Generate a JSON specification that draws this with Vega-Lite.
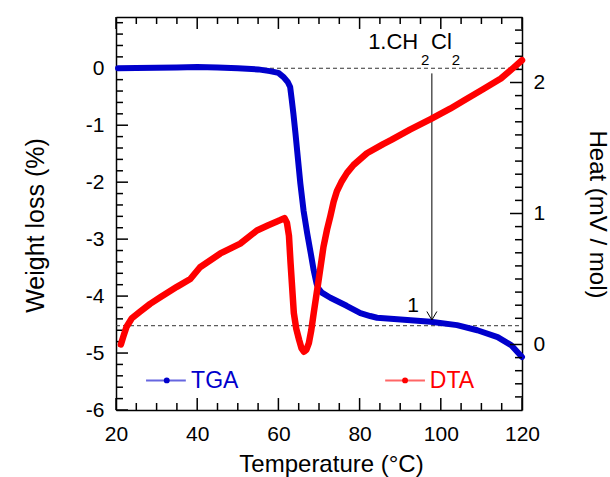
{
  "$schema": "https://vega.github.io/schema/vega-lite/v6.json",
  "width": 406,
  "height": 393,
  "autosize": "none",
  "padding": {"left": 116, "top": 17, "right": 88, "bottom": 67},
  "config": {
    "font": "Liberation Sans",
    "view": {"stroke": null, "fill": null},
    "axis": {
      "zindex": 1, "ticks": false,
      "grid": false, "domainColor": "black", "domainWidth": 1.5,
      "labelFontSize": 21, "labelColor": "black", "labelFont": "Liberation Sans",
      "labelFlush": false, "labelOverlap": false,
      "titleFontSize": 24, "titleFontWeight": "normal", "titleColor": "black", "titleFont": "Liberation Sans"
    }
  },
  "datasets": {
    "tga": [
      {"T": 20.5, "W": 0.0}, {"T": 25, "W": 0.005}, {"T": 30, "W": 0.01}, {"T": 35, "W": 0.015},
      {"T": 40, "W": 0.02}, {"T": 45, "W": 0.015}, {"T": 50, "W": 0.0}, {"T": 55, "W": -0.02},
      {"T": 57.9, "W": -0.05}, {"T": 60, "W": -0.08}, {"T": 61.2, "W": -0.15}, {"T": 62.3, "W": -0.24},
      {"T": 62.9, "W": -0.33}, {"T": 63.3, "W": -0.56}, {"T": 63.7, "W": -0.8}, {"T": 64.2, "W": -1.14},
      {"T": 65.4, "W": -2.02}, {"T": 66.2, "W": -2.5}, {"T": 67.1, "W": -2.9}, {"T": 67.9, "W": -3.22},
      {"T": 68.7, "W": -3.55}, {"T": 69.4, "W": -3.78}, {"T": 69.9, "W": -3.87}, {"T": 70.7, "W": -3.94}, {"T": 72.8, "W": -4.03},
      {"T": 76.8, "W": -4.17}, {"T": 80.2, "W": -4.3}, {"T": 82.6, "W": -4.35}, {"T": 84.3, "W": -4.38},
      {"T": 90.1, "W": -4.41}, {"T": 97.5, "W": -4.45}, {"T": 104, "W": -4.51}, {"T": 109, "W": -4.6},
      {"T": 114, "W": -4.72}, {"T": 117.3, "W": -4.86}, {"T": 120, "W": -5.07}
    ],
    "dta": [
      {"T": 21.2, "H": 0.0}, {"T": 21.8, "H": 0.06}, {"T": 22.6, "H": 0.135}, {"T": 23.9, "H": 0.2},
      {"T": 25.9, "H": 0.25}, {"T": 28.4, "H": 0.31}, {"T": 30.9, "H": 0.36}, {"T": 35, "H": 0.44},
      {"T": 38.3, "H": 0.5}, {"T": 40.7, "H": 0.59}, {"T": 45.7, "H": 0.695}, {"T": 50.6, "H": 0.77},
      {"T": 54.7, "H": 0.87}, {"T": 57.5, "H": 0.91}, {"T": 60.5, "H": 0.95}, {"T": 61.5, "H": 0.965},
      {"T": 62.1, "H": 0.93}, {"T": 62.6, "H": 0.83}, {"T": 63, "H": 0.62}, {"T": 63.8, "H": 0.24},
      {"T": 64.4, "H": 0.12}, {"T": 65.1, "H": 0.035}, {"T": 65.7, "H": -0.03}, {"T": 66.3, "H": -0.055},
      {"T": 66.9, "H": -0.04}, {"T": 67.5, "H": 0.01}, {"T": 68.1, "H": 0.11}, {"T": 68.7, "H": 0.24},
      {"T": 69.9, "H": 0.49}, {"T": 71.1, "H": 0.745}, {"T": 72, "H": 0.88}, {"T": 72.8, "H": 0.98},
      {"T": 73.6, "H": 1.09}, {"T": 74.4, "H": 1.17}, {"T": 75.5, "H": 1.24}, {"T": 76.9, "H": 1.31}, {"T": 78.5, "H": 1.37},
      {"T": 81.8, "H": 1.46}, {"T": 85.8, "H": 1.53}, {"T": 87.7, "H": 1.56}, {"T": 92.4, "H": 1.64},
      {"T": 97.5, "H": 1.72}, {"T": 102.3, "H": 1.8}, {"T": 105.8, "H": 1.865}, {"T": 110.5, "H": 1.95},
      {"T": 114.8, "H": 2.03}, {"T": 117.8, "H": 2.11}, {"T": 120, "H": 2.17}
    ],
    "xmajor": [{"v": 20}, {"v": 40}, {"v": 60}, {"v": 80}, {"v": 100}, {"v": 120}],
    "xminor": [{"v": 25}, {"v": 30}, {"v": 35}, {"v": 45}, {"v": 50}, {"v": 55}, {"v": 65}, {"v": 70}, {"v": 75}, {"v": 85}, {"v": 90}, {"v": 95}, {"v": 105}, {"v": 110}, {"v": 115}],
    "lmajor": [{"v": -6}, {"v": -5}, {"v": -4}, {"v": -3}, {"v": -2}, {"v": -1}, {"v": 0}],
    "lminor": [{"v": -5.8}, {"v": -5.6}, {"v": -5.4}, {"v": -5.2}, {"v": -4.8}, {"v": -4.6}, {"v": -4.4}, {"v": -4.2}, {"v": -3.8}, {"v": -3.6}, {"v": -3.4}, {"v": -3.2}, {"v": -2.8}, {"v": -2.6}, {"v": -2.4}, {"v": -2.2}, {"v": -1.8}, {"v": -1.6}, {"v": -1.4}, {"v": -1.2}, {"v": -0.8}, {"v": -0.6}, {"v": -0.4}, {"v": -0.2}, {"v": 0.2}, {"v": 0.4}, {"v": 0.6}, {"v": 0.8}],
    "rmajor": [{"v": 0}, {"v": 1}, {"v": 2}],
    "rminor": [{"v": -0.4}, {"v": -0.3}, {"v": -0.2}, {"v": -0.1}, {"v": 0.1}, {"v": 0.2}, {"v": 0.3}, {"v": 0.4}, {"v": 0.5}, {"v": 0.6}, {"v": 0.7}, {"v": 0.8}, {"v": 0.9}, {"v": 1.1}, {"v": 1.2}, {"v": 1.3}, {"v": 1.4}, {"v": 1.5}, {"v": 1.6}, {"v": 1.7}, {"v": 1.8}, {"v": 1.9}, {"v": 2.1}, {"v": 2.2}, {"v": 2.3}, {"v": 2.4}],
    "dashes": [
      {"x1": 20, "x2": 120, "y": 0},
      {"x1": 20, "x2": 120, "y": -4.52}
    ],
    "arrow": [
      {"x": 97.8, "y1": -0.09, "y2": -4.42}
    ],
    "legend": [
      {"s": "TGA", "x1": 27.4, "x2": 37.2, "xm": 32.5, "xt": 38.5, "y": -5.48},
      {"s": "DTA", "x1": 86.3, "x2": 96.1, "xm": 91.2, "xt": 97.3, "y": -5.48}
    ],
    "bigtext": [
      {"x": 82.1, "y": 0.33, "t": "1.CH"},
      {"x": 97.6, "y": 0.33, "t": "Cl"}
    ],
    "subtext": [
      {"x": 95.1, "y": 0.05, "t": "2"},
      {"x": 102.7, "y": 0.05, "t": "2"}
    ],
    "label1": [
      {"x": 93.2, "y": -4.28, "t": "1"}
    ]
  },
  "layer": [
    {
      "resolve": {"axis": {"x": "independent", "y": "independent"}},
      "layer": [
        {
          "data": {"name": "dashes"},
          "mark": {"type": "rule", "strokeDash": [4, 3], "color": "#333333", "strokeWidth": 1},
          "encoding": {
            "x": {"field": "x1", "type": "quantitative", "scale": {"domain": [20, 120], "nice": false, "zero": false}, "axis": null},
            "x2": {"field": "x2"},
            "y": {"field": "y", "type": "quantitative", "scale": {"domain": [-6, 0.9], "nice": false, "zero": false}, "axis": null}
          }
        },
        {
          "data": {"name": "xmajor"},
          "mark": {"type": "rule", "color": "black", "strokeWidth": 1.5},
          "encoding": {
            "x": {"field": "v", "type": "quantitative", "axis": null},
            "y": {"datum": -6, "type": "quantitative", "axis": null},
            "y2": {"datum": -5.79}
          }
        },
        {
          "data": {"name": "xminor"},
          "mark": {"type": "rule", "color": "black", "strokeWidth": 1.5},
          "encoding": {
            "x": {"field": "v", "type": "quantitative", "axis": null},
            "y": {"datum": -6, "type": "quantitative", "axis": null},
            "y2": {"datum": -5.877}
          }
        },
        {
          "data": {"name": "xmajor"},
          "mark": {"type": "rule", "color": "black", "strokeWidth": 1.5},
          "encoding": {
            "x": {"field": "v", "type": "quantitative", "axis": {"orient": "top", "labels": false, "ticks": false, "title": null, "values": [20, 120]}},
            "y": {"datum": 0.9, "type": "quantitative", "axis": null},
            "y2": {"datum": 0.69}
          }
        },
        {
          "data": {"name": "xminor"},
          "mark": {"type": "rule", "color": "black", "strokeWidth": 1.5},
          "encoding": {
            "x": {"field": "v", "type": "quantitative", "axis": null},
            "y": {"datum": 0.9, "type": "quantitative", "axis": null},
            "y2": {"datum": 0.777}
          }
        },
        {
          "data": {"name": "lmajor"},
          "mark": {"type": "rule", "color": "black", "strokeWidth": 1.5},
          "encoding": {
            "y": {"field": "v", "type": "quantitative", "axis": null},
            "x": {"datum": 20, "type": "quantitative", "axis": null},
            "x2": {"datum": 22.96}
          }
        },
        {
          "data": {"name": "lminor"},
          "mark": {"type": "rule", "color": "black", "strokeWidth": 1.5},
          "encoding": {
            "y": {"field": "v", "type": "quantitative", "axis": null},
            "x": {"datum": 20, "type": "quantitative", "axis": null},
            "x2": {"datum": 21.72}
          }
        },
        {
          "data": {"name": "tga"},
          "mark": {"type": "line", "color": "#0000CC", "strokeWidth": 6, "strokeCap": "round", "strokeJoin": "round"},
          "encoding": {
            "x": {
              "field": "T", "type": "quantitative",
              "axis": {
                "orient": "bottom",
                "values": [20, 40, 60, 80, 100, 120],
                "labelExpr": "'' + datum.value",
                "labelPadding": 13,
                "title": "Temperature (°C)",
                "titleX": 215, "titleY": 61.5, "titleBaseline": "alphabetic", "titleAlign": "center"
              }
            },
            "y": {
              "field": "W", "type": "quantitative",
              "axis": {
                "orient": "left",
                "values": [-6, -5, -4, -3, -2, -1, 0],
                "labelExpr": "'' + datum.value",
                "labelPadding": 12,
                "title": "Weight loss (%)",
                "titleFontSize": 25,
                "titleX": -72.7, "titleY": 208, "titleAngle": -90, "titleBaseline": "alphabetic", "titleAlign": "center"
              }
            }
          }
        },
        {
          "data": {"name": "arrow"},
          "mark": {"type": "rule", "color": "black", "strokeWidth": 1},
          "encoding": {
            "x": {"field": "x", "type": "quantitative", "axis": null},
            "y": {"field": "y1", "type": "quantitative", "axis": null},
            "y2": {"field": "y2"}
          }
        },
        {
          "data": {"name": "arrow"},
          "mark": {"type": "point", "shape": "M -1 -1.7 L 0 0 L 1 -1.7", "filled": false, "stroke": "black", "strokeWidth": 1, "size": 100, "opacity": 1},
          "encoding": {
            "x": {"field": "x", "type": "quantitative", "axis": null},
            "y": {"field": "y2", "type": "quantitative", "axis": null}
          }
        },
        {
          "data": {"name": "legend"},
          "mark": {"type": "rule", "strokeWidth": 2, "opacity": 0.6},
          "encoding": {
            "x": {"field": "x1", "type": "quantitative", "axis": null},
            "x2": {"field": "x2"},
            "y": {"field": "y", "type": "quantitative", "axis": null},
            "color": {"field": "s", "type": "nominal", "scale": {"domain": ["TGA", "DTA"], "range": ["#0000CC", "#FF0000"]}, "legend": null}
          }
        },
        {
          "data": {"name": "legend"},
          "mark": {"type": "point", "filled": true, "size": 35, "opacity": 1},
          "encoding": {
            "x": {"field": "xm", "type": "quantitative", "axis": null},
            "y": {"field": "y", "type": "quantitative", "axis": null},
            "color": {"field": "s", "type": "nominal", "scale": {"domain": ["TGA", "DTA"], "range": ["#0000CC", "#FF0000"]}, "legend": null}
          }
        },
        {
          "data": {"name": "legend"},
          "mark": {"type": "text", "align": "left", "baseline": "middle", "fontSize": 23, "dy": 1},
          "encoding": {
            "x": {"field": "xt", "type": "quantitative", "axis": null},
            "y": {"field": "y", "type": "quantitative", "axis": null},
            "text": {"field": "s"},
            "color": {"field": "s", "type": "nominal", "scale": {"domain": ["TGA", "DTA"], "range": ["#0000CC", "#FF0000"]}, "legend": null}
          }
        },
        {
          "data": {"name": "bigtext"},
          "mark": {"type": "text", "align": "left", "baseline": "alphabetic", "fontSize": 22, "color": "black"},
          "encoding": {
            "x": {"field": "x", "type": "quantitative", "axis": null},
            "y": {"field": "y", "type": "quantitative", "axis": null},
            "text": {"field": "t"}
          }
        },
        {
          "data": {"name": "subtext"},
          "mark": {"type": "text", "align": "left", "baseline": "alphabetic", "fontSize": 15, "color": "black"},
          "encoding": {
            "x": {"field": "x", "type": "quantitative", "axis": null},
            "y": {"field": "y", "type": "quantitative", "axis": null},
            "text": {"field": "t"}
          }
        },
        {
          "data": {"name": "label1"},
          "mark": {"type": "text", "align": "center", "baseline": "alphabetic", "fontSize": 21, "color": "black"},
          "encoding": {
            "x": {"field": "x", "type": "quantitative", "axis": null},
            "y": {"field": "y", "type": "quantitative", "axis": null},
            "text": {"field": "t"}
          }
        }
      ]
    },
    {
      "resolve": {"axis": {"x": "independent", "y": "independent"}},
      "layer": [
        {
          "data": {"name": "rmajor"},
          "mark": {"type": "rule", "color": "black", "strokeWidth": 1.5},
          "encoding": {
            "y": {"field": "v", "type": "quantitative", "scale": {"domain": [-0.5, 2.5], "nice": false, "zero": false}, "axis": null},
            "x": {"datum": 120, "type": "quantitative", "axis": null},
            "x2": {"datum": 117.04}
          }
        },
        {
          "data": {"name": "rminor"},
          "mark": {"type": "rule", "color": "black", "strokeWidth": 1.5},
          "encoding": {
            "y": {"field": "v", "type": "quantitative", "axis": null},
            "x": {"datum": 120, "type": "quantitative", "axis": null},
            "x2": {"datum": 118.28}
          }
        },
        {
          "data": {"name": "dta"},
          "mark": {"type": "line", "color": "#FF0000", "strokeWidth": 6.5, "strokeCap": "round", "strokeJoin": "round"},
          "encoding": {
            "x": {"field": "T", "type": "quantitative", "axis": null},
            "y": {
              "field": "H", "type": "quantitative",
              "axis": {
                "orient": "right",
                "values": [0, 1, 2],
                "labelExpr": "'' + datum.value",
                "labelPadding": 11,
                "title": "Heat (mV / mol)",
                "titleFontSize": 24,
                "titleX": 67, "titleY": 197, "titleAngle": 90, "titleBaseline": "alphabetic", "titleAlign": "center"
              }
            }
          }
        }
      ]
    }
  ],
  "resolve": {"scale": {"y": "independent"}, "axis": {"x": "independent", "y": "independent"}}
}
